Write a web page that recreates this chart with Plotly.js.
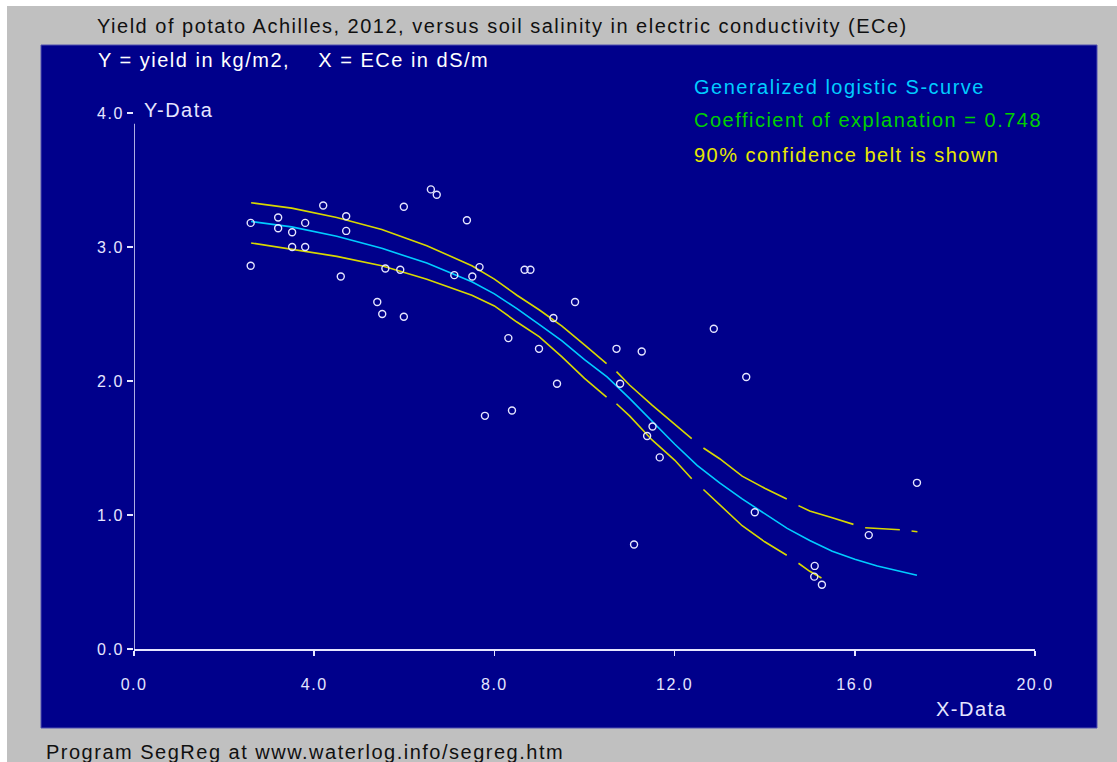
<!DOCTYPE html>
<html>
<head>
<meta charset="utf-8">
<script src="https://cdn.plot.ly/plotly-3.0.1.min.js"></script>
<style>
  html, body { margin: 0; padding: 0; background: #ffffff; }
  #chart { width: 1117px; height: 762px; }
  /* wide, screen-style glyph spacing (global so text measurement sees it too) */
  svg text { letter-spacing: 1.5px; }
</style>
</head>
<body>
<div id="chart"></div>
<script>
// Observed ECe (dS/m) and yield (kg/m2)
const obsECe = [2.59, 2.59, 3.20, 3.20, 3.51, 3.80, 3.51, 3.80, 4.20, 4.71, 4.71, 4.59,
  5.40, 5.51, 5.99, 5.58, 5.91, 5.99, 6.59, 6.72, 7.39, 7.11, 7.51, 7.67,
  8.67, 8.80, 9.79, 9.31, 8.31, 8.99, 10.71, 11.27, 12.87, 9.39, 10.79, 13.59,
  7.79, 8.39, 11.51, 11.39, 11.67, 11.10, 13.78, 17.38, 16.31, 15.11, 15.10, 15.27];
const obsYield = [3.18, 2.86, 3.22, 3.14, 3.11, 3.18, 3.00, 3.00, 3.31, 3.23, 3.12, 2.78,
  2.59, 2.50, 2.48, 2.84, 2.83, 3.30, 3.43, 3.39, 3.20, 2.79, 2.78, 2.85,
  2.83, 2.83, 2.59, 2.47, 2.32, 2.24, 2.24, 2.22, 2.39, 1.98, 1.98, 2.03,
  1.74, 1.78, 1.66, 1.59, 1.43, 0.78, 1.02, 1.24, 0.85, 0.62, 0.54, 0.48];

// Fitted generalized logistic S-curve
const fitECe = [2.6, 3.5, 4.5, 5.5, 6.5, 7.5, 8.0, 8.5, 9.0, 9.5, 10.0, 10.5, 11.0, 11.5,
  12.0, 12.5, 13.0, 13.5, 14.0, 14.5, 15.0, 15.5, 16.0, 16.5, 17.0, 17.38];
const fitYield = [3.19, 3.15, 3.08, 2.99, 2.88, 2.74, 2.65, 2.54, 2.42, 2.30, 2.16, 2.03, 1.87, 1.70,
  1.53, 1.37, 1.24, 1.12, 1.01, 0.90, 0.81, 0.73, 0.67, 0.62, 0.58, 0.55];

// 90% confidence belt (null marks a break in the drawn line)
const upperECe = [2.6, 3.5, 4.5, 5.5, 6.5, 7.5, 8.0, 8.5, 9.0, 9.5, 10.0, 10.49, null,
  10.71, 11.0, 11.5, 12.0, 12.38, null, 12.64, 13.0, 13.5, 14.0, 14.49, null,
  14.75, 15.0, 15.5, 15.97, null, 16.23, 16.6, 17.0, null, 17.26, 17.39];
const upperYield = [3.33, 3.29, 3.22, 3.13, 3.01, 2.86, 2.76, 2.64, 2.53, 2.41, 2.27, 2.13, null,
  2.07, 1.97, 1.82, 1.68, 1.57, null, 1.50, 1.42, 1.29, 1.20, 1.12, null,
  1.07, 1.03, 0.98, 0.93, null, 0.905, 0.90, 0.89, null, 0.88, 0.875];
const lowerECe = [2.6, 3.5, 4.5, 5.5, 6.5, 7.5, 8.0, 8.5, 9.0, 9.5, 10.0, 10.49, null,
  10.71, 11.0, 11.5, 12.0, 12.38, null, 12.64, 13.0, 13.5, 14.0, 14.49, null,
  14.75, 15.0, 15.26];
const lowerYield = [3.03, 2.98, 2.93, 2.86, 2.76, 2.64, 2.56, 2.44, 2.33, 2.18, 2.02, 1.88, null,
  1.83, 1.74, 1.56, 1.41, 1.27, null, 1.19, 1.08, 0.92, 0.80, 0.70, null,
  0.64, 0.58, 0.53];

const xTicks = [0, 4, 8, 12, 16, 20];
const xTickText = ['0.0', '4.0', '8.0', '12.0', '16.0', '20.0'];
const yTicks = [0, 1, 2, 3, 4];
const yTickText = ['0.0', '1.0', '2.0', '3.0', '4.0'];

const W = 1117, H = 762;
const M = { l: 134, r: 82, t: 113, b: 113 };
const PW = W - M.l - M.r, PH = H - M.t - M.b;
// pixel position -> paper fraction
const px = v => (v - M.l) / PW;
const py = v => (H - M.b - v) / PH;

const FONT = '"Liberation Sans", Arial, sans-serif';
const NAVY = '#00008b';
const INK = '#e6e6ff';

const traces = [
  {
    x: upperECe, y: upperYield, type: 'scatter', mode: 'lines', connectgaps: false,
    line: { color: '#d8d800', width: 1.6 }, hoverinfo: 'skip'
  },
  {
    x: lowerECe, y: lowerYield, type: 'scatter', mode: 'lines', connectgaps: false,
    line: { color: '#d8d800', width: 1.6 }, hoverinfo: 'skip'
  },
  {
    x: fitECe, y: fitYield, type: 'scatter', mode: 'lines',
    line: { color: '#00ccff', width: 1.6 }, hoverinfo: 'skip'
  },
  {
    x: obsECe, y: obsYield, type: 'scatter', mode: 'markers',
    marker: { symbol: 'circle-open', size: 7, color: INK, line: { width: 1.4, color: INK } }
  }
];

const ann = (text, x, y, color, size) => ({
  text, xref: 'paper', yref: 'paper', x: px(x), y: py(y),
  xanchor: 'left', yanchor: 'middle', showarrow: false,
  font: { family: FONT, size: size, color: color }
});

const layout = {
  width: W, height: H,
  margin: M,
  paper_bgcolor: '#c0c0c0',
  plot_bgcolor: NAVY,
  showlegend: false,
  title: {
    text: 'Yield of potato Achilles, 2012, versus soil salinity in electric conductivity (ECe)',
    x: 97 / W, xanchor: 'left', xref: 'container',
    y: 1 - 26 / H, yanchor: 'middle', yref: 'container',
    font: { family: FONT, size: 20, color: '#101010' }
  },
  xaxis: {
    range: [0, 20], tickvals: xTicks, ticktext: xTickText,
    showgrid: false, zeroline: false, showline: true, linecolor: INK, linewidth: 1.5,
    ticks: 'outside', ticklen: 5, tickwidth: 1.5, tickcolor: INK,
    ticklabelstandoff: 15,
    tickfont: { family: FONT, size: 16, color: INK }
  },
  yaxis: {
    range: [0, 4], tickvals: yTicks, ticktext: yTickText,
    showgrid: false, zeroline: false, showline: false,
    ticks: 'outside', ticklen: 6, tickwidth: 1.5, tickcolor: INK,
    tickfont: { family: FONT, size: 16, color: INK }
  },
  shapes: [
    { type: 'rect', xref: 'paper', yref: 'paper', layer: 'below',
      x0: px(0), x1: px(7), y0: py(H), y1: py(0), fillcolor: '#ffffff', line: { width: 0 } },
    { type: 'rect', xref: 'paper', yref: 'paper', layer: 'below',
      x0: px(0), x1: px(W), y0: py(6), y1: py(0), fillcolor: '#ffffff', line: { width: 0 } },
    { type: 'rect', xref: 'paper', yref: 'paper', layer: 'below',
      x0: px(41), x1: px(1097), y0: py(728), y1: py(45), fillcolor: NAVY,
      line: { color: '#5050b0', width: 1 } },
    { type: 'line', xref: 'x', yref: 'y', x0: 0, x1: 0, y0: 0, y1: 3.92,
      line: { color: INK, width: 1.5 } }
  ],
  annotations: [
    ann('Y = yield in kg/m2,&nbsp;&nbsp;&nbsp;&nbsp;X = ECe in dS/m', 96, 60, '#ffffff', 20),
    ann('Y-Data', 142, 110, INK, 20),
    ann('X-Data', 934, 709, INK, 20),
    ann('Generalized logistic S-curve', 692, 87, '#00ccff', 20),
    ann('Coefficient of explanation = 0.748', 692, 120, '#00d000', 20),
    ann('90% confidence belt is shown', 692, 155, '#e8e800', 20),
    ann('Program SegReg at www.waterlog.info/segreg.htm', 44, 752, '#101010', 20)
  ]
};

Plotly.newPlot('chart', traces, layout, { displayModeBar: false, staticPlot: true });
</script>
</body>
</html>
